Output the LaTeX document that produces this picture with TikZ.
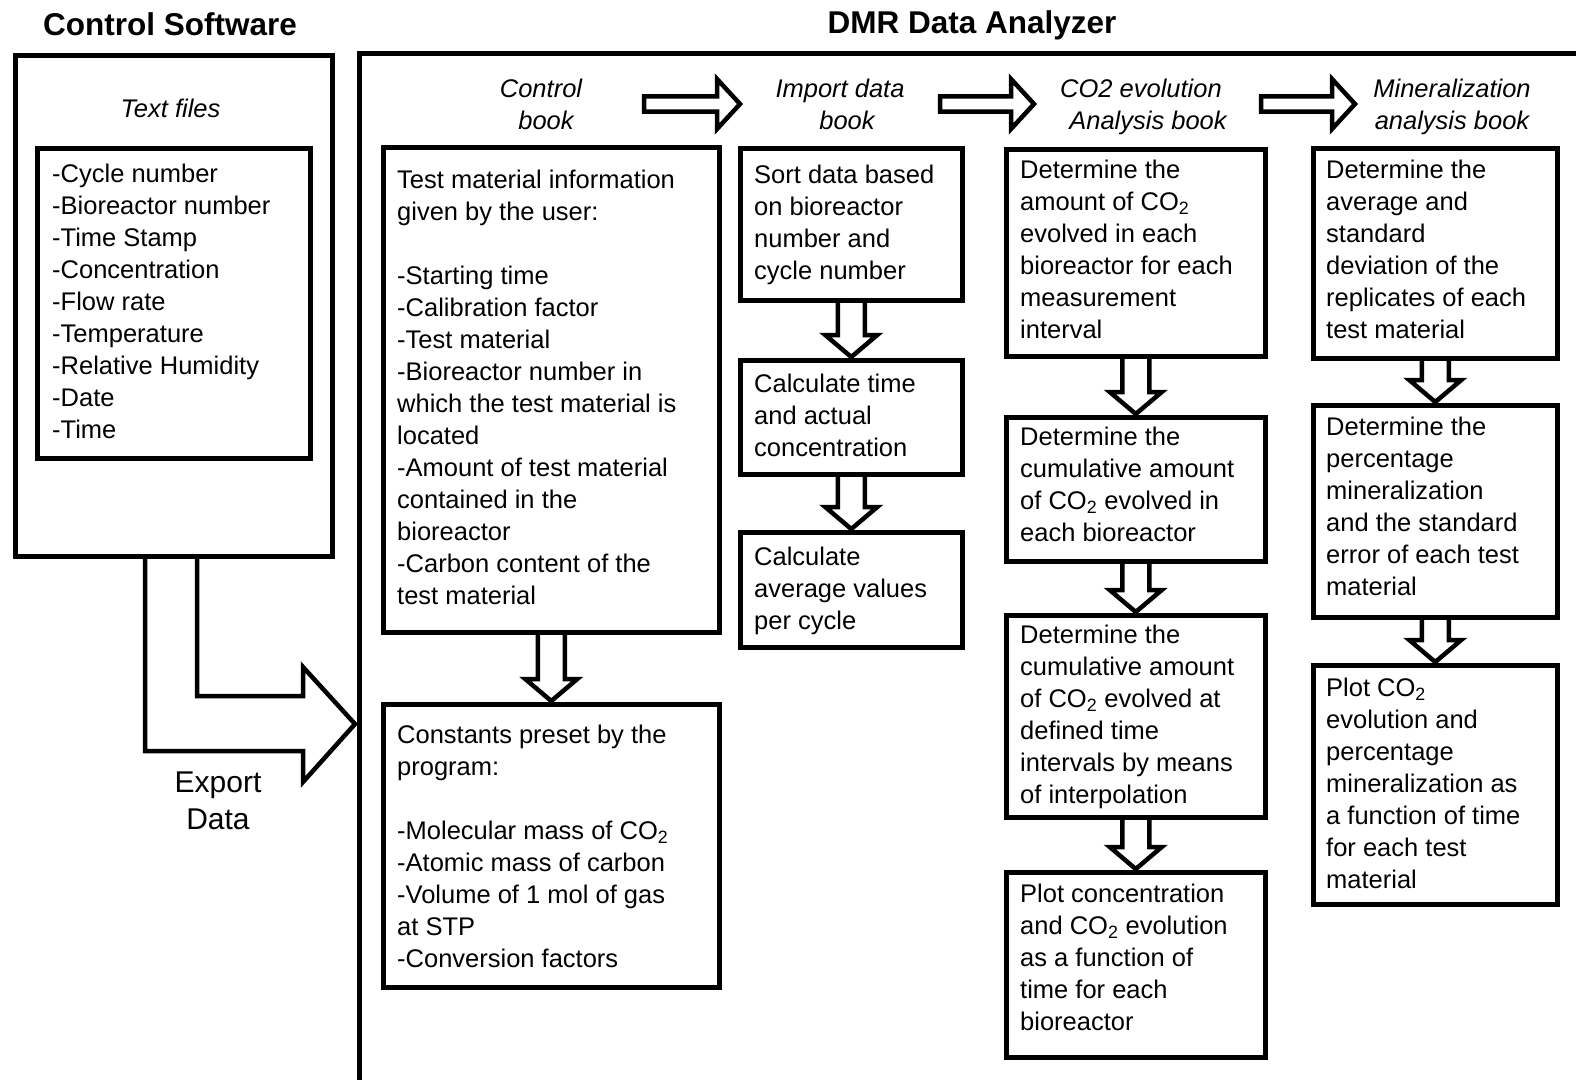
\documentclass[tikz,border=0pt]{standalone}
\usepackage{fontspec}
\setmainfont{Liberation Sans}
\usetikzlibrary{calc}
\newcommand\COtwo{CO\textsubscript{2}}
\tikzset{
  box/.style={draw, line width=4.5pt, inner sep=0pt, anchor=north west},
  txt/.style={font=\fontsize{25.5}{32}\selectfont, align=left, inner sep=0pt, anchor=north west},
  hdr/.style={font=\fontsize{25.5}{32}\selectfont\itshape, inner sep=0pt, anchor=base},
  ttl/.style={font=\fontsize{31.5}{36}\selectfont\bfseries, inner sep=0pt, anchor=base},
  exp/.style={font=\fontsize{30}{37}\selectfont, inner sep=0pt, anchor=base},
  hollow/.style={draw, line width=4.5pt, line join=miter},
}
\newcommand\vhollow[2]{\draw[hollow] let \p1=(#1.south), \p2=(#2.north) in
  (\x1-13.5pt,\y1) -- (\x1-13.5pt,\y2+23pt) -- (\x1-26pt,\y2+23pt) -- (\x1,\y2+1pt)
  -- (\x1+26pt,\y2+23pt) -- (\x1+13.5pt,\y2+23pt) -- (\x1+13.5pt,\y1);}
\newcommand\hhollow[2]{\draw[hollow] let \p1=(#1), \p2=(#2) in
  (\x1,\y1+7.7pt) -- (\x2-23pt,\y1+7.7pt) -- (\x2-23pt,\y1+25pt) -- (\x2,\y1)
  -- (\x2-23pt,\y1-25pt) -- (\x2-23pt,\y1-7.7pt) -- (\x1,\y1-7.7pt) -- cycle;}
\begin{document}
\begin{tikzpicture}[x=1pt,y=-1pt]
\useasboundingbox (0,0) rectangle (1576,1079);
\clip (0,0) rectangle (1576,1079);
\fill[white] (0,0) rectangle (1576,1079);

% titles
\node[ttl] (tcs) at (170,35) {Control Software};
\node[ttl] (tdmr) at (972,33) {DMR Data Analyzer};

% control software
\node[box, minimum width=317pt, minimum height=501pt] (ctrl) at (13,53) {};
\node[hdr] (tfiles) at (170.5,117) {Text files};
\node[box, minimum width=273pt, minimum height=310pt] (files) at (35,146) {};
\node[txt] (filestxt) at (52,159.6) {\strut-Cycle number\\-Bioreactor number\\-Time Stamp\\-Concentration\\-Flow rate\\-Temperature\\-Relative Humidity\\-Date\\-Time};

% DMR big box
\node[box, minimum width=1240pt, minimum height=1031pt] (dmr) at (357,51) {};

% export arrow
\coordinate (exo) at (145,0);
\coordinate (exi) at (197,0);
\coordinate (extip) at (355,724);
\draw[hollow] (ctrl.south -| exo) -- (145,751) -- (303,751) -- (303,782) -- (extip)
  -- (303,667) -- (303,696) -- (197,696) -- (ctrl.south -| exi);
\node[exp] (export1) at (218,792) {Export};
\node[exp] (export2) at (218,829) {Data};

% headers
\node[hdr] (h1a) at (541,97) {Control};
\node[hdr] (h1b) at (546,129) {book};
\node[hdr] (h2a) at (840,97) {Import data};
\node[hdr] (h2b) at (847,129) {book};
\node[hdr] (h3a) at (1141,97) {CO2 evolution};
\node[hdr] (h3b) at (1148,129) {Analysis book};
\node[hdr] (h4a) at (1452,97) {Mineralization};
\node[hdr] (h4b) at (1452,129) {analysis book};

\coordinate (a1s) at (644,104); \coordinate (a1e) at (740,104);
\coordinate (a2s) at (940,104); \coordinate (a2e) at (1034,104);
\coordinate (a3s) at (1261,104); \coordinate (a3e) at (1355,104);
\hhollow{a1s}{a1e}
\hhollow{a2s}{a2e}
\hhollow{a3s}{a3e}

% column 1
\node[box, minimum width=336pt, minimum height=485pt] (A) at (381,145) {};
\node[txt] (Atxt) at (397,165.6) {\strut Test material information\\given by the user:\\[32pt]-Starting time\\-Calibration factor\\-Test material\\-Bioreactor number in\\which the test material is\\located\\-Amount of test material\\contained in the\\bioreactor\\-Carbon content of the\\test material};
\node[box, minimum width=336pt, minimum height=283pt] (B) at (381,702) {};
\node[txt] (Btxt) at (397,720.6) {\strut Constants preset by the\\program:\\[32pt]-Molecular mass of \COtwo\\-Atomic mass of carbon\\-Volume of 1 mol of gas\\at STP\\-Conversion factors};

% column 2
\node[box, minimum width=222pt, minimum height=152pt] (C1) at (738,146) {};
\node[txt] (C1txt) at (754,160.6) {\strut Sort data based\\on bioreactor\\number and\\cycle number};
\node[box, minimum width=222pt, minimum height=114pt] (C2) at (738,358) {};
\node[txt] (C2txt) at (754,369.6) {\strut Calculate time\\and actual\\concentration};
\node[box, minimum width=222pt, minimum height=115pt] (C3) at (738,530) {};
\node[txt] (C3txt) at (754,542.6) {\strut Calculate\\average values\\per cycle};

% column 3
\node[box, minimum width=259pt, minimum height=207pt] (D1) at (1004,147) {};
\node[txt] (D1txt) at (1020,155.6) {\strut Determine the\\amount of \COtwo\\evolved in each\\bioreactor for each\\measurement\\interval};
\node[box, minimum width=259pt, minimum height=144pt] (D2) at (1004,415) {};
\node[txt] (D2txt) at (1020,423.1) {\strut Determine the\\cumulative amount\\of \COtwo{} evolved in\\each bioreactor};
\node[box, minimum width=259pt, minimum height=202pt] (D3) at (1004,613) {};
\node[txt] (D3txt) at (1020,620.6) {\strut Determine the\\cumulative amount\\of \COtwo{} evolved at\\defined time\\intervals by means\\of interpolation};
\node[box, minimum width=259pt, minimum height=185pt] (D4) at (1004,870) {};
\node[txt] (D4txt) at (1020,879.6) {\strut Plot concentration\\and \COtwo{} evolution\\as a function of\\time for each\\bioreactor};

% column 4
\node[box, minimum width=244pt, minimum height=210pt] (E1) at (1311,146) {};
\node[txt] (E1txt) at (1326,155.6) {\strut Determine the\\average and\\standard\\deviation of the\\replicates of each\\test material};
\node[box, minimum width=244pt, minimum height=212pt] (E2) at (1311,403) {};
\node[txt] (E2txt) at (1326,413.1) {\strut Determine the\\percentage\\mineralization\\and the standard\\error of each test\\material};
\node[box, minimum width=244pt, minimum height=239pt] (E3) at (1311,663) {};
\node[txt] (E3txt) at (1326,673.6) {\strut Plot \COtwo\\evolution and\\percentage\\mineralization as\\a function of time\\for each test\\material};

% vertical arrows
\vhollow{A}{B}
\vhollow{C1}{C2}
\vhollow{C2}{C3}
\vhollow{D1}{D2}
\vhollow{D2}{D3}
\vhollow{D3}{D4}
\vhollow{E1}{E2}
\vhollow{E2}{E3}
\end{tikzpicture}
\end{document}
